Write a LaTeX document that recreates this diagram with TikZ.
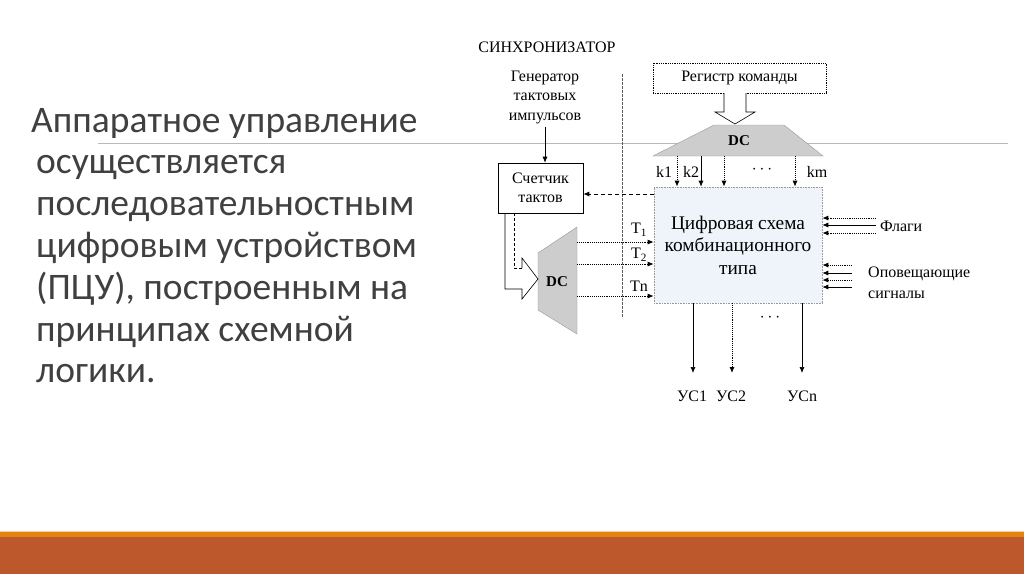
\documentclass[tikz,border=0pt]{standalone}
\usepackage{fontspec}
\setmainfont{Liberation Serif}
\newfontfamily\carl{Carlito}
\usetikzlibrary{arrows.meta}
\definecolor{txtgray}{HTML}{404040}
\definecolor{barorange}{HTML}{E48312}
\definecolor{barbrown}{HTML}{BD582C}
\definecolor{boxfill}{HTML}{EEF4FA}
\definecolor{dcfill}{HTML}{CDCDCD}
\begin{document}
\begin{tikzpicture}[x=1pt,y=-1pt,
  lbl/.style={font=\fontsize{16}{19.5}\selectfont, inner sep=0pt, align=center},
  body/.style={font=\carl\fontsize{37.5}{41.8}\selectfont, text=txtgray, inner sep=0pt, anchor=base west},
  tipa/.style={-{Latex[length=6pt,width=5pt]}},
  dotarr/.style={tipa, densely dotted, line width=0.9pt},
  solarr/.style={tipa, line width=0.7pt},
  dasharr/.style={tipa, dash pattern=on 4pt off 3pt, line width=0.8pt},
  dcshape/.style={fill=dcfill, draw=gray!80, line width=0.4pt},
  dclbl/.style={font=\fontsize{15}{17}\selectfont\bfseries, inner sep=0pt},
]
\useasboundingbox (0,0) rectangle (1024,574);
\fill[white] (0,0) rectangle (1024,574);
% bottom bars
\fill[barbrown] (0,537) rectangle (1024,574);
\fill[barorange] (0,531) rectangle (1024,537);
\draw[barorange!40, line width=0.6pt] (0,531) -- (1024,531);
% thin grey rule
\draw[gray!55, line width=0.7pt] (98,143) -- (1008,143);

% left text
\node[body] (l1) at (31,132) {Аппаратное управление};
\node[body] (l2) at (36,173.8) {осуществляется};
\node[body] (l3) at (36,215.6) {последовательностным};
\node[body] (l4) at (36,257.4) {цифровым устройством};
\node[body] (l5) at (36,299.2) {(ПЦУ), построенным на};
\node[body] (l6) at (36,341) {принципах схемной};
\node[body] (l7) at (36,382.8) {логики.};

% synchronizer header and border
\node[lbl] (sync) at (547,47) {СИНХРОНИЗАТОР};
\coordinate (sepT) at (622,74);
\coordinate (sepB) at (622,318);
\draw[gray!70!black, dash pattern=on 2.5pt off 1.5pt, line width=0.8pt] (sepT) -- (sepB);

% generator and counter
\node[lbl] (gen) at (545,97) {Генератор\\тактовых\\импульсов};
\node[draw, line width=0.6pt, minimum width=85pt, minimum height=50pt, lbl] (cnt) at (540.5,188) {Счетчик\\тактов};
\draw[solarr] (gen.south) ++(0,3) -- (gen.south |- cnt.north);

% register and top DC
\node[draw, densely dotted, line width=0.8pt, minimum width=173pt, minimum height=30pt, lbl] (reg) at (739.5,78) {Регистр команды};
\draw[line width=0.6pt, fill=white] (724,93) -- (724,112) -- (715,112) -- (735,124) -- (755,112) -- (746,112) -- (746,93);
\draw[dcshape] (714,125) -- (784,125) -- (823,156) -- (653,156) -- cycle;
\node[dclbl] (dctop) at (739,141) {DC};

% main combinational box
\node[draw=gray!80, densely dotted, fill=boxfill, line width=0.6pt, minimum width=168pt, minimum height=116pt, align=center, font=\fontsize{19.3}{22.5}\selectfont, inner sep=0pt] (main) at (738,245) {Цифровая схема\\комбинационного\\типа};

% k arrows
\coordinate (k1) at (677,156);
\coordinate (k2) at (701,156);
\coordinate (k3) at (724,156);
\coordinate (km) at (795,156);
\draw[dotarr] (k1) -- (k1 |- main.north);
\draw[solarr] (k2) -- (k2 |- main.north);
\draw[dotarr] (k3) -- (k3 |- main.north);
\draw[dotarr] (km) -- (km |- main.north);
\node[lbl] (k1l) at (664,172) {k1};
\node[lbl] (k2l) at (691,172) {k2};
\node[lbl] (kml) at (817,172) {km};
\node[lbl] (kdots) at (762,170) {$\cdots$};

% feedback to counter
\coordinate (fb) at (654,194);
\draw[dasharr] (fb) -- (fb -| cnt.east);

% left DC
\draw[dcshape] (538,253) -- (577,227) -- (577,334) -- (538,310) -- cycle;
\node[dclbl] (dcleft) at (557,282) {DC};
% hollow bent arrow counter -> DC
\draw[line width=0.6pt] (505,213) -- (505,289) -- (522,289) -- (522,299) -- (538,279) -- (522,258) -- (522,268);
\draw[line width=0.6pt, dash pattern=on 3pt off 2pt] (522,268) -- (514,268) -- (514,213);

% T arrows
\coordinate (t1) at (577,242);
\coordinate (t2) at (577,264);
\coordinate (tn) at (577,296);
\draw[dotarr] (t1) -- (t1 -| main.west);
\draw[dotarr] (t2) -- (t2 -| main.west);
\draw[dotarr] (tn) -- (tn -| main.west);
\node[lbl] (t1l) at (639,230) {T\textsubscript{1}};
\node[lbl] (t2l) at (639,255) {T\textsubscript{2}};
\node[lbl] (tnl) at (639,286) {Tn};

% flags
\node[lbl, anchor=west] (flag) at (880,226) {Флаги};
\coordinate (f1) at (876,218);
\coordinate (f2) at (876,225);
\coordinate (f3) at (876,233);
\draw[dotarr] (f1) -- (f1 -| main.east);
\draw[solarr] (f2) -- (f2 -| main.east);
\draw[dotarr] (f3) -- (f3 -| main.east);

% notification signals
\node[lbl, anchor=west, align=left, font=\fontsize{16}{21}\selectfont] (opov) at (868,283) {Оповещающие\\сигналы};
\coordinate (o1) at (852,265);
\coordinate (o2) at (852,273);
\coordinate (o3) at (852,280);
\coordinate (o4) at (852,287);
\draw[dotarr] (o1) -- (o1 -| main.east);
\draw[solarr] (o2) -- (o2 -| main.east);
\draw[dotarr] (o3) -- (o3 -| main.east);
\draw[solarr] (o4) -- (o4 -| main.east);

% outputs
\coordinate (u1) at (693,373);
\coordinate (u2) at (732,373);
\coordinate (un) at (802,373);
\draw[solarr] (u1 |- main.south) -- (u1);
\draw[dotarr] (u2 |- main.south) -- (u2);
\draw[solarr] (un |- main.south) -- (un);
\node[lbl] (odots) at (770,318) {$\cdots$};
\node[lbl] (u1l) at (692,396) {УС1};
\node[lbl] (u2l) at (731,396) {УС2};
\node[lbl] (unl) at (802,396) {УСn};
\end{tikzpicture}
\end{document}
